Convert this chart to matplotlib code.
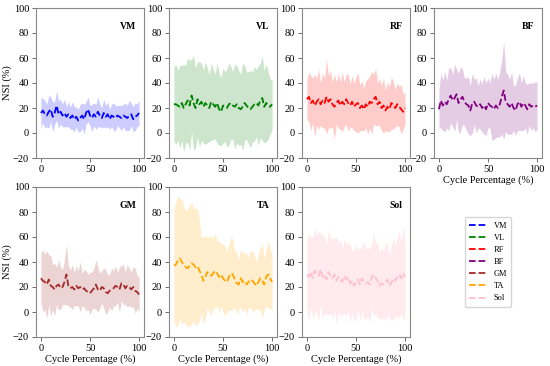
import numpy as np
import matplotlib
matplotlib.use("Agg")
import matplotlib.pyplot as plt

plt.rcParams['font.family'] = ['Liberation Serif', 'DejaVu Serif']

x = list(range(0, 101, 2))

muscles = ["VM", "VL", "RF", "BF", "GM", "TA", "Sol"]
colors = ["blue", "green", "red", "purple", "brown", "orange", "pink"]

vm_mean = [16,18,15,14,17,19,13,16,22,15,17,14,16,13,15,12,14,11,13,10,12,14,11,16,19,14,12,15,13,17,14,12,16,13,15,11,14,13,12,14,13,12,14,13,12,14,15,11,13,14,16]
vm_sd = [12,10,11,9,13,10,12,9,12,11,10,9,11,8,10,9,11,10,8,9,11,10,12,9,10,8,11,9,10,12,9,8,11,9,10,8,9,11,10,8,9,10,9,11,10,12,9,10,11,9,10]

vl_mean = [23,23,22,21,24,20,23,26,22,30,24,20,27,23,25,21,24,22,20,25,23,21,24,19,17,22,21,20,23,24,22,21,23,20,19,21,24,22,20,19,21,23,24,22,26,28,21,24,22,21,23]
vl_sd = [30,32,28,33,30,35,31,34,36,29,38,32,30,34,31,29,33,30,27,31,28,26,32,29,27,30,28,31,33,29,27,34,31,30,28,35,30,27,29,31,28,30,27,32,30,34,29,31,27,22,20]

rf_mean = [27,29,24,26,22,25,27,23,26,24,29,25,27,23,21,24,26,22,25,23,27,24,22,25,21,23,24,20,22,19,23,21,25,24,27,29,23,25,20,22,18,21,19,24,22,20,23,21,19,17,20]
rf_sd = [16,20,22,18,25,19,24,17,22,20,30,21,23,18,26,17,22,19,24,18,20,23,17,21,19,22,24,18,20,17,19,22,21,25,20,23,17,19,18,22,16,20,18,21,19,15,17,16,20,14,13]

bf_mean = [19,26,22,25,23,27,30,26,28,31,24,27,29,25,23,22,18,24,25,22,21,23,20,22,19,24,22,21,19,22,20,23,29,34,25,23,21,24,20,18,23,25,21,24,22,19,23,21,22,21,22]
bf_sd = [15,22,20,24,19,25,22,21,27,20,24,26,22,19,21,23,20,24,18,22,17,20,19,23,21,20,18,27,24,26,23,26,30,39,24,24,22,25,18,20,21,23,19,22,18,20,17,19,18,20,19]

gm_mean = [27,25,24,22,26,21,20,18,21,22,19,20,24,30,21,19,20,18,21,19,20,18,19,17,16,15,17,19,22,18,17,20,19,16,15,17,18,19,21,20,18,23,22,19,21,20,18,20,17,16,14]
gm_sd = [20,25,22,27,20,24,18,21,15,20,17,14,18,24,16,15,18,13,16,14,20,13,15,16,14,17,15,16,20,18,14,13,16,18,15,13,17,14,16,12,18,14,16,13,17,15,14,16,18,13,14]

ta_mean = [37,38,41,43,40,38,36,35,37,39,38,36,37,33,30,25,28,32,30,29,31,33,31,28,30,27,25,24,28,31,30,26,23,22,27,24,25,22,24,26,25,23,21,24,27,25,22,28,30,27,24]
ta_sd = [45,50,52,48,50,46,45,47,48,49,45,47,46,40,30,35,33,28,30,32,28,30,26,29,25,27,28,24,26,30,28,22,25,20,23,24,22,25,20,23,24,22,18,22,25,30,20,23,27,24,22]

sol_mean = [30,28,32,27,33,31,29,34,28,30,26,32,29,27,30,25,28,27,24,29,26,28,23,25,21,24,26,22,27,25,23,24,22,28,30,27,25,21,23,22,24,26,21,23,27,25,28,30,27,31,28]
sol_sd = [30,35,28,32,34,30,36,29,33,31,28,34,30,32,29,35,27,31,26,30,29,27,31,25,28,30,24,29,26,31,28,27,30,25,34,28,30,26,29,27,31,28,25,30,33,29,31,35,28,38,30]

means = [vm_mean, vl_mean, rf_mean, bf_mean, gm_mean, ta_mean, sol_mean]
sds = [vm_sd, vl_sd, rf_sd, bf_sd, gm_sd, ta_sd, sol_sd]
fill_alpha = [0.2, 0.2, 0.2, 0.2, 0.2, 0.2, 0.3]

W, H = 550, 366
fig = plt.figure(figsize=(5.5, 3.66), dpi=100)
lefts = [36, 169, 302, 434]
aw, ah = 108, 150
tops = [8, 187]

def mk_ax(r, c):
    l = lefts[c]
    t = tops[r]
    return fig.add_axes([l / W, (H - t - ah) / H, aw / W, ah / H])

lines = []
for i, (name, col) in enumerate(zip(muscles, colors)):
    r, c = divmod(i, 4)
    ax = mk_ax(r, c)
    m = np.array(means[i], dtype=float)
    s = np.array(sds[i], dtype=float)
    ax.fill_between(x, m - s, m + s, color=col, alpha=fill_alpha[i], linewidth=0)
    ln, = ax.plot(x, m, color=col, linestyle='--', linewidth=1.3, label=name)
    lines.append(ln)
    ax.set_xlim(-5, 105)
    ax.set_ylim(-20, 100)
    ax.set_xticks([0, 50, 100])
    ax.set_yticks([-20, 0, 20, 40, 60, 80, 100])
    ax.set_yticklabels(['\u221220', '0', '20', '40', '60', '80', '100'])
    ax.tick_params(labelsize=7.5, length=3, width=0.6, color='#555555', pad=2)
    for sp in ax.spines.values():
        sp.set_color('#888888')
        sp.set_linewidth(0.8)
    ax.text(0.93, 0.875, name, transform=ax.transAxes, ha='right', va='center',
            fontsize=7, fontweight='bold')
    if c == 0:
        ax.set_ylabel('NSI (%)', fontsize=7.5, labelpad=1)
    if r == 1 or c == 3:
        ax.set_xlabel('Cycle Percentage (%)', fontsize=7.5, labelpad=1)

lax = mk_ax(1, 3)
lax.axis('off')
lax.legend(handles=lines, loc='center', fontsize=6, frameon=True,
           handlelength=2.2, labelspacing=0.5, borderpad=0.5,
           edgecolor='#cccccc', fancybox=True)

fig.savefig('out.png', dpi=100)
